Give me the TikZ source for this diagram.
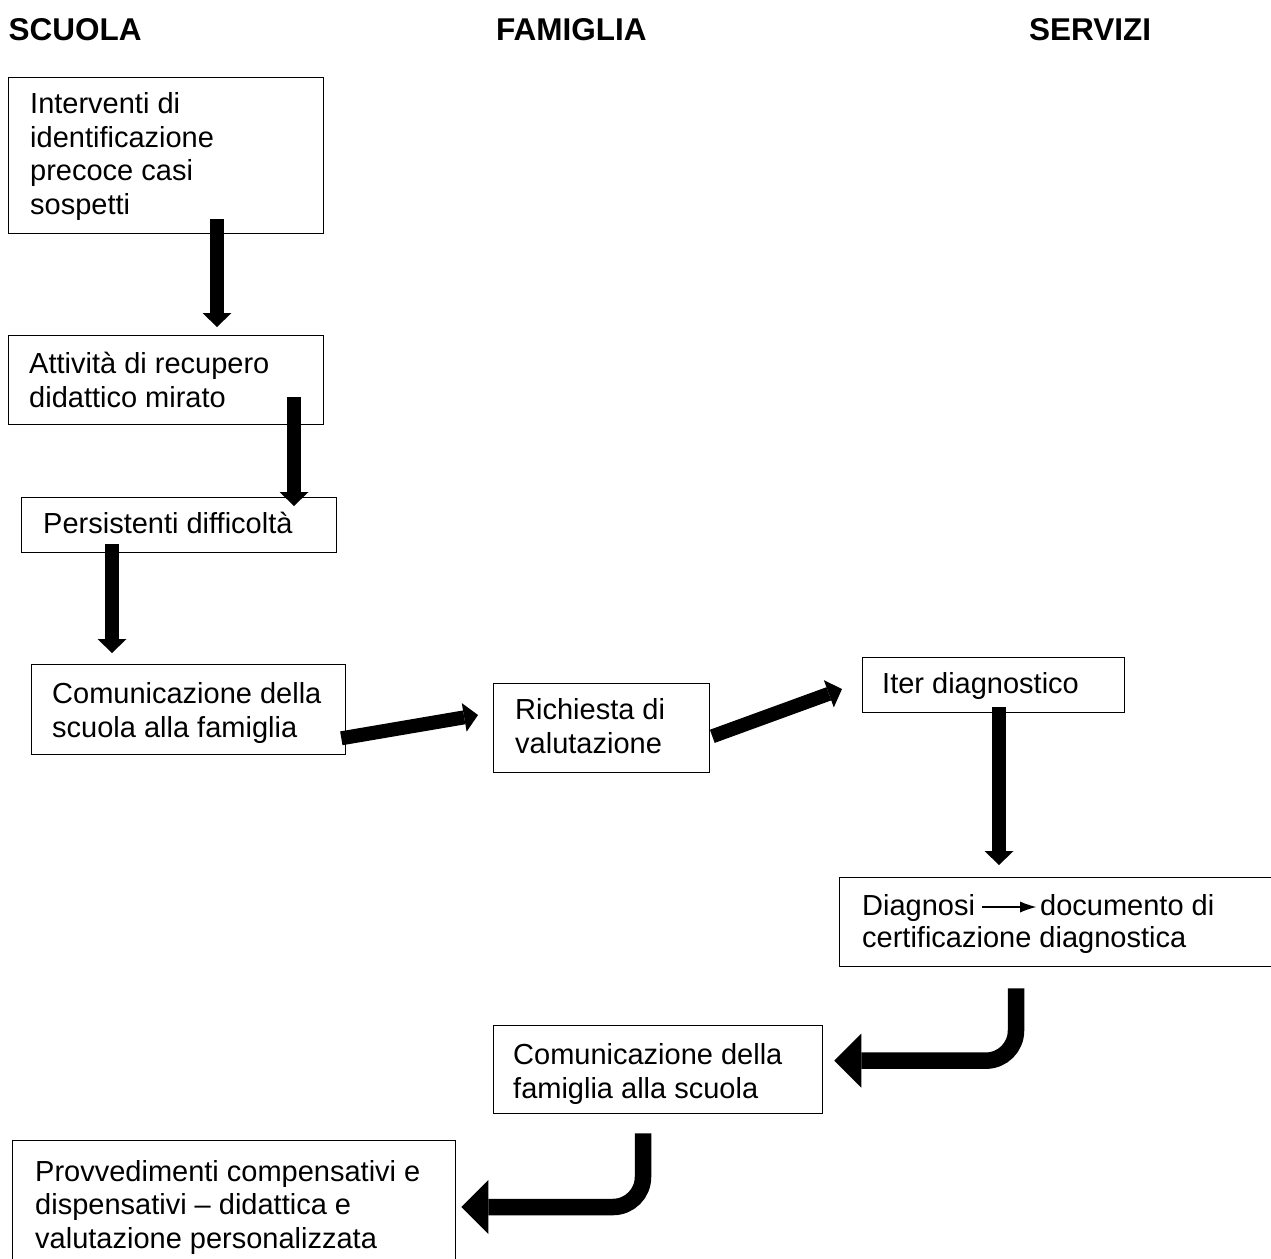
\documentclass[tikz,border=0pt]{standalone}
\usepackage{fontspec}
\setmainfont{Liberation Sans}
\usetikzlibrary{arrows.meta,calc}
\begin{document}
\begin{tikzpicture}[x=1pt,y=-1pt,
  box/.style={draw, line width=1.3pt, inner sep=0pt, anchor=north west},
  txt/.style={font=\fontsize{29}{33.4}\selectfont, align=left, inner sep=0pt, anchor=base west},
  hdr/.style={font=\fontsize{31.5}{36}\selectfont\bfseries, inner sep=0pt, anchor=base west},
  fatarrow/.style={line width=14pt, -{Triangle[length=14pt,width=29pt,line width=0pt]}},
  bentarrow/.style={line width=16.5pt, rounded corners=30pt, -{Triangle[length=27pt,width=54pt,line width=0pt]}},
  inlinearrow/.style={line width=2pt, -{Latex[length=16pt,width=11pt,line width=0pt]}},
]
\useasboundingbox (0,0) rectangle (1271,1258);

% headers
\node[hdr] (h1) at (8.5,40) {SCUOLA};
\node[hdr] (h2) at (496,40) {FAMIGLIA};
\node[hdr] (h3) at (1029,40) {SERVIZI};

% boxes
\node[box, minimum width=315pt, minimum height=156pt] (b1) at (8,77) {};
\node[box, minimum width=315pt, minimum height=89pt] (b2) at (8,335) {};
\node[box, minimum width=315pt, minimum height=55pt] (b3) at (21,497) {};
\node[box, minimum width=314pt, minimum height=90pt] (b4) at (31,664) {};
\node[box, minimum width=216pt, minimum height=89pt] (b5) at (493,683) {};
\node[box, minimum width=262pt, minimum height=55pt] (b6) at (862,657) {};
\node[box, minimum width=440pt, minimum height=89pt] (b7) at (839,877) {};
\node[box, minimum width=329pt, minimum height=88pt] (b8) at (493,1025) {};
\node[box, minimum width=443pt, minimum height=150pt] (b9) at (12,1140) {};

% texts (base anchor = baseline of last line)
\node[txt] (t1) at (30,214) {Interventi di\\identificazione\\precoce casi\\sospetti};
\node[txt] (t2) at (29,407) {Attività di recupero\\didattico mirato};
\node[txt] (t3) at (43,533) {Persistenti difficoltà};
\node[txt] (t4) at (52,737) {Comunicazione della\\scuola alla famiglia};
\node[txt] (t5) at (515,753) {Richiesta di\\valutazione};
\node[txt] (t6) at (882,693) {Iter diagnostico};
\node[txt] (t7a) at (862,915) {Diagnosi};
\node[txt] (t7b) at (1040,915) {documento di};
\node[txt] (t7c) at (862,947) {certificazione diagnostica};
\node[txt] (t8) at (513,1098) {Comunicazione della\\famiglia alla scuola};
\node[txt] (t9) at (35,1248) {Provvedimenti compensativi e\\dispensativi – didattica e\\valutazione personalizzata};

% inline arrow
\draw[inlinearrow] ($(t7a.base east)+(7,-8)$) -- ($(t7b.base west)+(-4,-8)$);

% connectors
\draw[fatarrow] ($(b1.south west)+(209,-15)$) -- ($(b2.north west)+(209,-8)$);
\draw[fatarrow] ($(b2.south west)+(286,-28)$) -- ($(b3.north west)+(273,9)$);
\draw[fatarrow] ($(b3.south west)+(91,-9)$) -- ($(b4.north west)+(81,-11)$);
\draw[fatarrow] ($(b4.south east)+(-5,-17)$) -- ($(b5.north west)+(-15,32)$);
\draw[fatarrow] ($(b5.south east)+(2,-37)$) -- ($(b6.north west)+(-20,32)$);
\draw[fatarrow] ($(b6.south west)+(137,-6)$) -- ($(b7.north west)+(160,-12)$);
\draw[bentarrow] ($(b7.south west)+(177,21)$) |- ($(b8.east)+(11,-9)$);
\draw[bentarrow] ($(b8.south west)+(150,19)$) |- ($(b9.north east)+(5,67)$);
\end{tikzpicture}
\end{document}
